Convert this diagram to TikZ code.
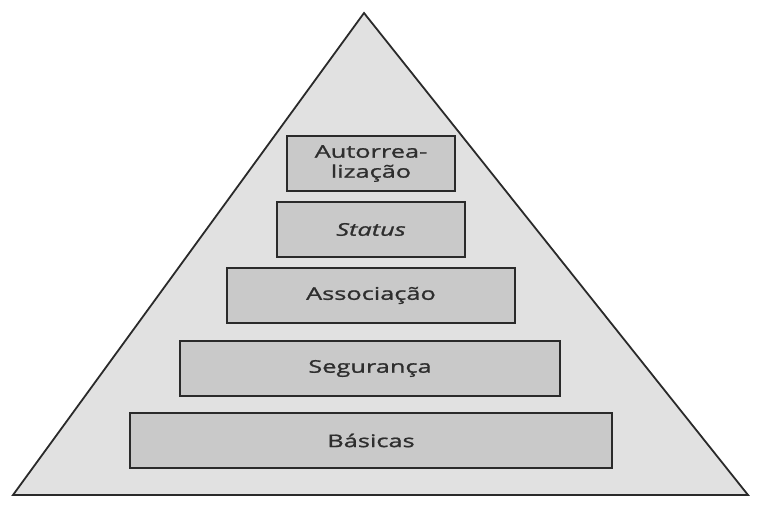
\documentclass[tikz,border=0pt]{standalone}
\usepackage{fontspec}
\setmainfont[FakeStretch=1.45,FakeBold=1.2,AutoFakeBold=1.2]{Open Sans}
\definecolor{pyrfill}{HTML}{E1E1E1}
\definecolor{levelfill}{HTML}{C9C9C9}
\definecolor{edgegray}{HTML}{2A2A2A}
\definecolor{textgray}{HTML}{2E2E2E}
\tikzset{
    level/.style={draw=edgegray, line width=2.4pt, fill=levelfill, inner sep=0pt,
        minimum height=55pt, text=textgray, align=center,
        font=\fontsize{17.5}{20}\selectfont\bfseries},
}

\begin{document}
\begin{tikzpicture}[x=1pt,y=-1pt]
            \useasboundingbox (0,0) rectangle (762,510);
            \coordinate (L) at (13,495);
            \coordinate (R) at (748,495);
            \coordinate (T) at (364,13);
            \draw[draw=edgegray, line width=1.8pt, fill=pyrfill, line join=miter] (L)--(T)--(R)--cycle;

            % the five levels, bottom to top
            \node[level, minimum width=482pt] (basicas) at (371,440.5) {Básicas};
            \node[level, minimum width=380pt] (seguranca) at (370,368.5) {Segurança};
            \node[level, minimum width=288pt] (associacao) at (371,295.5) {Associação};
            \node[level, minimum width=188pt] (status) at (371,229.5) {\itshape Status};
            \node[level, minimum width=168pt] (autorrealizacao) at (371,163.5) {Autorrea-\\lização};
        \end{tikzpicture}
\end{document}
